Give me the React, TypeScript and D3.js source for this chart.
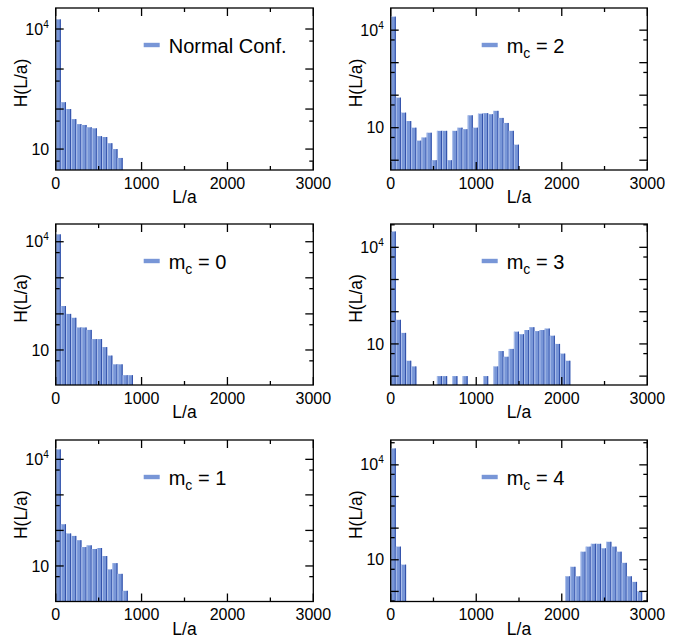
import React from 'react';
import * as d3 from 'd3';

const BIN_WIDTH = 60;
const X_MAJOR = [0, 1000, 2000, 3000];
const X_MINOR = [500, 1500, 2500];

// histogram counts per 60-wide bin, starting at L/a = 0
const normalConf = [17400, 148, 100, 56, 42, 40, 35, 33, 21, 20, 14, 10, 6];
const mc2 = [26000, 84, 29, 16, 10, 4, 5, 7, 1, 8, 8, 1, 8, 10, 9, 24, 10, 27, 28, 26, 33, 20, 14, 8, 3];
const mc0 = [16000, 165, 100, 78, 42, 42, 36, 20, 20, 12, 7, 4, 4, 2, 2];
const mc3 = [31000, 56, 22, 3, 2, 0, 0, 0, 0, 1, 1, 0, 1, 0, 1, 0, 0, 0, 1, 0,
  2, 6, 4, 7, 24, 20, 27, 33, 25, 27, 30, 18, 10, 5, 3];
const mc1 = [19000, 149, 82, 70, 53, 34, 38, 30, 32, 19, 8, 12, 6, 2];
const mc4 = [33000, 26, 7, 0, 0, 0, 0, 0, 0, 0, 0, 0, 0, 0, 0, 0, 0, 0, 0, 0,
  0, 0, 0, 0, 0, 0, 0, 0, 0, 0, 0, 0, 0, 0,
  3, 6, 3, 18, 26, 32, 32, 23, 37, 26, 18, 8, 3, 2, 1];

const SERIES = [normalConf, mc2, mc0, mc3, mc1, mc4];
const LEGEND_LABELS = ['Normal Conf.', '2', '0', '3', '1', '4'];
const LEGEND_IS_MC = [false, true, true, true, true, true];
const Y_DOMAINS: [number, number][] = [
  [3, 33500], [0.5, 48000], [1.07, 31000], [0.53, 53000], [1, 35000], [0.48, 61000],
];

const COLS = [{ x0: 55.7, x1: 313.3 }, { x0: 390.7, x1: 647.3 }];
const ROWS = [{ y0: 8, y1: 170 }, { y0: 224, y1: 385 }, { y0: 440, y1: 601.5 }];

const FILL = '#7896d7';
const DARK = '#3352ab';
const LIGHT = '#b4c6ee';
const FONT = '"Liberation Sans", Arial, Helvetica, sans-serif';

function Panel({ idx }: { idx: number }) {
  const col = COLS[idx % 2];
  const row = ROWS[Math.floor(idx / 2)];
  const { x0, x1 } = col;
  const { y0, y1 } = row;
  const xs = d3.scaleLinear().domain([0, 3000]).range([x0, x1]);
  const ys = d3.scaleLog().domain(Y_DOMAINS[idx]).range([y1, y0]);
  const data = SERIES[idx];
  const bw = xs(BIN_WIDTH) - xs(0);
  const [d0, d1] = Y_DOMAINS[idx];
  const majors: number[] = [];
  const minors: number[] = [];
  for (let k = -1; k <= 5; k++) {
    const p = Math.pow(10, k);
    if (p > d0 && p < d1) majors.push(p);
    if (5 * p > d0 && 5 * p < d1) minors.push(5 * p);
  }
  const clipId = `clip${idx}`;
  const legX = x0 + (idx % 2 === 0 ? 88 : 91);
  const legY = y0 + 37;
  const midY = (y0 + y1) / 2 - 6;
  const labX = idx % 2 === 0 ? 21 : 356;
  const tk = 1.3;
  return (
    <g>
      <defs>
        <clipPath id={clipId}>
          <rect x={x0} y={y0} width={x1 - x0} height={y1 - y0} />
        </clipPath>
      </defs>
      <g clipPath={`url(#${clipId})`}>
        {data.map((v, i) => {
          if (v <= 0) return null;
          const x = xs(i * BIN_WIDTH);
          const y = ys(v);
          const h = y1 - y;
          return (
            <g key={i}>
              <rect x={x} y={y} width={bw} height={h} fill={FILL} />
              <rect x={x} y={y} width={0.9} height={h} fill={LIGHT} />
              <rect x={x + bw - 1.1} y={y} width={1.1} height={h} fill={DARK} />
            </g>
          );
        })}
      </g>
      <rect x={x0} y={y0} width={x1 - x0} height={y1 - y0} fill="none" stroke="#000" strokeWidth={1.3} />
      {X_MAJOR.map((t) => (
        <g key={'xm' + t}>
          <line x1={xs(t)} x2={xs(t)} y1={y1} y2={y1 - 8} stroke="#000" strokeWidth={tk} />
          <line x1={xs(t)} x2={xs(t)} y1={y0} y2={y0 + 8} stroke="#000" strokeWidth={tk} />
          <text x={xs(t)} y={y1 + 18.5} textAnchor="middle" fontSize={16} fontFamily={FONT}>{t}</text>
        </g>
      ))}
      {X_MINOR.map((t) => (
        <g key={'xn' + t}>
          <line x1={xs(t)} x2={xs(t)} y1={y1} y2={y1 - 4} stroke="#000" strokeWidth={tk} />
          <line x1={xs(t)} x2={xs(t)} y1={y0} y2={y0 + 4} stroke="#000" strokeWidth={tk} />
        </g>
      ))}
      {majors.map((t) => (
        <g key={'ym' + t}>
          <line x1={x0} x2={x0 + 8} y1={ys(t)} y2={ys(t)} stroke="#000" strokeWidth={tk} />
          <line x1={x1} x2={x1 - 8} y1={ys(t)} y2={ys(t)} stroke="#000" strokeWidth={tk} />
        </g>
      ))}
      {minors.map((t) => (
        <g key={'yn' + t}>
          <line x1={x0} x2={x0 + 4} y1={ys(t)} y2={ys(t)} stroke="#000" strokeWidth={tk} />
          <line x1={x1} x2={x1 - 4} y1={ys(t)} y2={ys(t)} stroke="#000" strokeWidth={tk} />
        </g>
      ))}
      <text x={x0 - 6.5} y={ys(10) + 5.6} textAnchor="end" fontSize={16} fontFamily={FONT}>10</text>
      <text x={x0 - 7} y={ys(10000) + 5.6} textAnchor="end" fontSize={16} fontFamily={FONT}>
        10<tspan fontSize={10} dy={-7}>4</tspan>
      </text>
      <text x={(x0 + x1) / 2} y={y1 + 33} textAnchor="middle" fontSize={17.5} fontFamily={FONT}>L/a</text>
      <text transform={`translate(${labX},${midY}) rotate(-90)`} x={0} y={6} textAnchor="middle" fontSize={17.5} fontFamily={FONT}>H(L/a)</text>
      <rect x={legX} y={legY - 2.2} width={16} height={4.4} fill={FILL} />
      {LEGEND_IS_MC[idx] ? (
        <text x={legX + 25} y={legY + 7.5} fontSize={20} fontFamily={FONT} style={{ whiteSpace: 'pre' }}>
          m<tspan fontSize={14} dy={5}>c</tspan><tspan dy={-5}>{' = ' + LEGEND_LABELS[idx]}</tspan>
        </text>
      ) : (
        <text x={legX + 25} y={legY + 8} fontSize={20} fontFamily={FONT}>{LEGEND_LABELS[idx]}</text>
      )}
    </g>
  );
}

export default function App() {
  return (
    <svg width={689} height={643} style={{ position: 'absolute', left: 0, top: 0, background: '#fff' }}>
      <rect x={0} y={0} width={689} height={643} fill="#fff" />
      {SERIES.map((_, i) => (
        <Panel key={i} idx={i} />
      ))}
    </svg>
  );
}
